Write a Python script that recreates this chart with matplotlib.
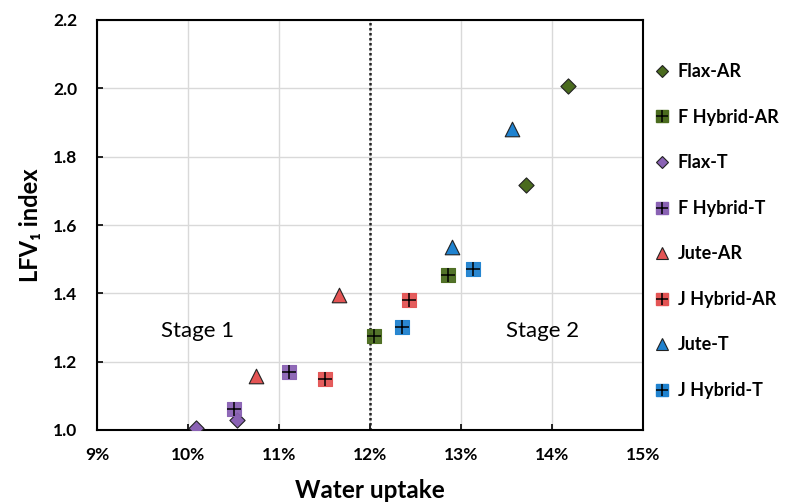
import matplotlib.pyplot as plt
from matplotlib.lines import Line2D
from matplotlib.ticker import FuncFormatter

plt.rcParams['font.family'] = ['Lato', 'DejaVu Sans']

# water uptake (%) and LFV1 index per series
flax_ar_x = [14.18, 13.71]
flax_ar_y = [2.007, 1.717]
fhyb_ar_x = [12.04, 12.86]
fhyb_ar_y = [1.275, 1.454]
flax_t_x = [10.09, 10.54]
flax_t_y = [1.006, 1.030]
fhyb_t_x = [10.51, 11.11]
fhyb_t_y = [1.062, 1.169]
jute_ar_x = [10.75, 11.66]
jute_ar_y = [1.158, 1.395]
jhyb_ar_x = [11.51, 12.43]
jhyb_ar_y = [1.148, 1.381]
jute_t_x = [12.90, 13.56]
jute_t_y = [1.535, 1.880]
jhyb_t_x = [12.35, 13.13]
jhyb_t_y = [1.302, 1.471]

green = "#4a6b1e"
purple = "#8a62b4"
red = "#e45454"
blue = "#1f82cf"

fig = plt.figure(figsize=(7.88, 5.04), dpi=100)
ax = fig.add_axes([97/788, 1 - 430/504, 546/788, 410/504])

handles = []


def diamond(x, y, c):
    ax.scatter(x, y, marker="D", s=60, c=c, edgecolors="#222222", linewidths=0.8, zorder=3)
    return Line2D([], [], marker="D", ls="", ms=6.5, mfc=c, mec="#222222", mew=0.8)


def triangle(x, y, c):
    ax.scatter(x, y, marker="^", s=110, c=c, edgecolors="#222222", linewidths=0.8, zorder=3)
    return Line2D([], [], marker="^", ls="", ms=8, mfc=c, mec="#222222", mew=0.8)


def sqplus(x, y, c):
    ax.scatter(x, y, marker="s", s=110, c=c, edgecolors=c, linewidths=0.8, alpha=0.95, zorder=3)
    ax.scatter(x, y, marker="+", s=90, c="black", linewidths=1.1, zorder=4)
    sq = Line2D([], [], marker="s", ls="", ms=9, mfc=c, mec=c)
    pl = Line2D([], [], marker="+", ls="", ms=8.5, mec="black", mew=1.1)
    return (sq, pl)


handles.append(diamond(flax_ar_x, flax_ar_y, green))
handles.append(sqplus(fhyb_ar_x, fhyb_ar_y, green))
handles.append(diamond(flax_t_x, flax_t_y, purple))
handles.append(sqplus(fhyb_t_x, fhyb_t_y, purple))
handles.append(triangle(jute_ar_x, jute_ar_y, red))
handles.append(sqplus(jhyb_ar_x, jhyb_ar_y, red))
handles.append(triangle(jute_t_x, jute_t_y, blue))
handles.append(sqplus(jhyb_t_x, jhyb_t_y, blue))
labels = ["Flax-AR", "F Hybrid-AR", "Flax-T", "F Hybrid-T",
          "Jute-AR", "J Hybrid-AR", "Jute-T", "J Hybrid-T"]

ax.axvline(12, color="#222222", ls=(0, (1, 1)), lw=1.8, zorder=2)

ax.set_xlim(9, 15)
ax.set_ylim(1.0, 2.2)
ax.set_xticks(range(9, 16))
ax.set_yticks([1.0, 1.2, 1.4, 1.6, 1.8, 2.0, 2.2])
ax.xaxis.set_major_formatter(FuncFormatter(lambda v, p: f"{v:.0f}%"))
ax.yaxis.set_major_formatter(FuncFormatter(lambda v, p: f"{v:.1f}"))
ax.grid(True, color="#d9d9d9", lw=1)
ax.set_axisbelow(True)
for s in ax.spines.values():
    s.set_linewidth(1.5)
ax.tick_params(direction="in", length=4, width=1.2, labelsize=12.5, pad=12)
for t in ax.get_xticklabels() + ax.get_yticklabels():
    t.set_fontweight("bold")
ax.tick_params(axis="y", pad=14)

ax.text(10.11, 1.29, "Stage 1", fontsize=16, ha="center", va="center")
ax.text(13.9, 1.29, "Stage 2", fontsize=16, ha="center", va="center")

ax.set_xlabel("Water uptake", fontsize=17.5, fontweight="bold", labelpad=12)
ax.set_ylabel("LFV\u2081 index", fontsize=17, fontweight="bold", labelpad=8,
              family=["Lato", "DejaVu Sans"])

fig.legend(handles, labels, loc="upper left", bbox_to_anchor=(637/788, 1 - 47/504),
           frameon=False, prop={"weight": "bold", "size": 13},
           labelspacing=1.58, handlelength=1.0, handletextpad=0.35)

fig.savefig("out.png", dpi=100)
